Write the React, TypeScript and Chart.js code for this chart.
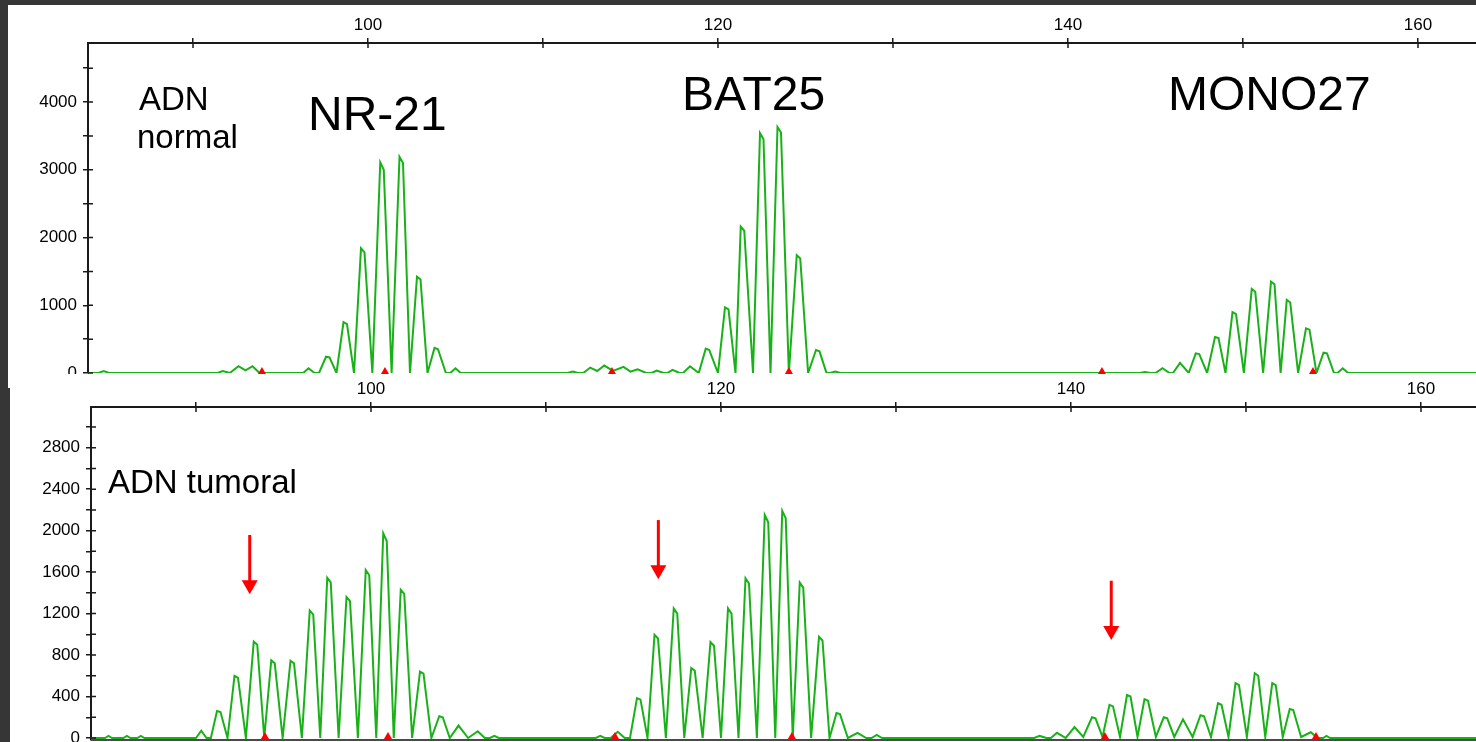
import React, { useEffect, useRef } from 'react';
import { Chart, registerables } from 'chart.js';

Chart.register(...registerables);

// ---------------- data ----------------
// trace vertices: [size in bp, fluorescence in RFU]
const normalTrace: [number, number][] = [
  [84, 0], [84.6, 0], [84.9, 30], [85.2, 0],
  [91.4, 0], [91.7, 30], [92.1, 0], [92.6, 100], [93.0, 40], [93.4, 100], [93.8, 0],
  [96.3, 0], [96.6, 70], [96.95, 0], [97.2, 0], [97.6, 240], [97.8, 230], [98.2, 0],
  [98.6, 750], [98.8, 720], [99.2, 0], [99.6, 1840], [99.8, 1780], [100.25, 0],
  [100.7, 3110], [100.9, 3000], [101.35, 0], [101.8, 3190], [102.0, 3100], [102.4, 0],
  [102.8, 1420], [103.0, 1380], [103.4, 0], [103.8, 370], [104.0, 350], [104.45, 0],
  [104.7, 0], [105.0, 70], [105.3, 0],
  [111.4, 0], [111.7, 20], [112.0, 0], [112.3, 0], [112.7, 80], [113.1, 30], [113.5, 110],
  [114.0, 30], [114.6, 90], [115.0, 20], [115.4, 55], [115.9, 0], [116.2, 0], [116.5, 35],
  [116.9, 0], [117.1, 0], [117.4, 45], [117.8, 0], [118.0, 0], [118.4, 100], [118.9, 0],
  [119.3, 360], [119.5, 340], [120.0, 0], [120.4, 970], [120.6, 940], [121.0, 0],
  [121.3, 2160], [121.5, 2100], [122.0, 0], [122.4, 3540], [122.6, 3450], [123.0, 0],
  [123.4, 3630], [123.6, 3550], [124.05, 0], [124.5, 1740], [124.7, 1690], [125.15, 0],
  [125.6, 340], [125.8, 320], [126.2, 0], [126.4, 0], [126.7, 20], [127.0, 0],
  [144.1, 0], [144.4, 15], [144.7, 0], [145.0, 0], [145.4, 70], [145.8, 0], [146.0, 0],
  [146.4, 150], [146.9, 0], [147.3, 290], [147.5, 280], [147.95, 0], [148.4, 530],
  [148.6, 515], [149.0, 0], [149.4, 900], [149.6, 870], [150.05, 0], [150.5, 1240],
  [150.7, 1200], [151.15, 0], [151.6, 1350], [151.8, 1310], [152.15, 0], [152.5, 1080],
  [152.7, 1040], [153.15, 0], [153.6, 660], [153.8, 640], [154.2, 0], [154.6, 300],
  [154.8, 290], [155.2, 0], [155.4, 0], [155.7, 70], [156.0, 0], [164, 0],
];

const tumoralTrace: [number, number][] = [
  [84, 0], [84.8, 0], [85.0, 20], [85.2, 0], [85.85, 0], [86.05, 20], [86.25, 0],
  [86.65, 0], [86.85, 20], [87.05, 0],
  [90.0, 0], [90.3, 70], [90.6, 0], [90.85, 0], [91.2, 260], [91.4, 250], [91.8, 0],
  [92.2, 600], [92.4, 580], [92.85, 0], [93.3, 930], [93.5, 900], [93.9, 0],
  [94.3, 750], [94.5, 720], [94.95, 0], [95.4, 745], [95.6, 720], [96.05, 0],
  [96.5, 1230], [96.7, 1190], [97.1, 0], [97.5, 1545], [97.7, 1500], [98.15, 0],
  [98.6, 1360], [98.8, 1320], [99.25, 0], [99.7, 1620], [99.9, 1570], [100.3, 0],
  [100.7, 1975], [100.9, 1900], [101.3, 0], [101.7, 1430], [101.9, 1390], [102.35, 0],
  [102.8, 640], [103.0, 620], [103.45, 0], [103.9, 210], [104.1, 200], [104.5, 0],
  [105.0, 120], [105.55, 0], [106.1, 65], [106.5, 0], [106.8, 0], [107.05, 20], [107.3, 0],
  [112.85, 0], [113.1, 20], [113.35, 0], [113.7, 0], [114.1, 60], [114.5, 0], [114.8, 0],
  [115.2, 385], [115.4, 370], [115.8, 0], [116.2, 995], [116.4, 960], [116.85, 0],
  [117.3, 1250], [117.5, 1200], [117.9, 0], [118.3, 675], [118.5, 650], [118.95, 0],
  [119.4, 925], [119.6, 890], [120.0, 0], [120.4, 1250], [120.6, 1200], [121.0, 0],
  [121.4, 1540], [121.6, 1490], [122.05, 0], [122.5, 2150], [122.7, 2080], [123.1, 0],
  [123.5, 2190], [123.7, 2120], [124.1, 0], [124.5, 1500], [124.7, 1450], [125.15, 0],
  [125.6, 975], [125.8, 940], [126.2, 0], [126.6, 240], [126.8, 230], [127.25, 0],
  [127.8, 50], [128.3, 0], [128.6, 0], [128.9, 30], [129.2, 0],
  [137.9, 0], [138.2, 20], [138.6, 0], [138.85, 0], [139.2, 50], [139.7, 0], [140.2, 105],
  [140.7, 10], [141.2, 200], [141.4, 190], [141.8, 10], [142.2, 320], [142.4, 305],
  [142.8, 10], [143.2, 415], [143.4, 400], [143.8, 10], [144.2, 375], [144.4, 360],
  [144.85, 10], [145.3, 200], [145.5, 190], [145.9, 10], [146.4, 180], [146.95, 10],
  [147.4, 220], [147.6, 210], [148.0, 10], [148.4, 335], [148.6, 320], [149.0, 10],
  [149.4, 530], [149.6, 510], [150.05, 10], [150.5, 625], [150.7, 600], [151.1, 10],
  [151.5, 530], [151.7, 510], [152.1, 10], [152.5, 280], [152.7, 270], [153.15, 10],
  [153.7, 55], [154.1, 0], [154.4, 0], [154.6, 20], [154.8, 0], [164, 0],
];

// size-standard markers (red triangles on the baseline)
const sizeMarkersBp = [93.94, 100.97, 113.94, 124.05, 141.94, 154.0];

// red arrows in the tumoral panel
const arrowBp = [93.07, 116.42, 142.3];
const arrowTopRfu = [1958, 2102, 1517];
const arrowTipRfu = [1386, 1530, 945];

// axis ticks
const xTickValues = [90, 100, 110, 120, 130, 140, 150, 160];
const xTickLabels = ['', '100', '', '120', '', '140', '', '160'];
const normalYTicks = [0, 500, 1000, 1500, 2000, 2500, 3000, 3500, 4000, 4500];
const normalYLabels = ['0', '', '1000', '', '2000', '', '3000', '', '4000', ''];
const tumoralYTicks = [0, 200, 400, 600, 800, 1000, 1200, 1400, 1600, 1800, 2000, 2200, 2400, 2600, 2800, 3000];
const tumoralYLabels = ['0', '', '400', '', '800', '', '1200', '', '1600', '', '2000', '', '2400', '', '2800', ''];

// annotation texts
const normalTexts = ['ADN', 'normal', 'NR-21', 'BAT25', 'MONO27'];
const tumoralTexts = ['ADN tumoral'];

// ---------------- layout / style ----------------
const DARK = '#363636';
const AXIS = '#1a1a1a';
const TRACE = 'rgb(24,178,24)';
const FONT = '"Liberation Sans", Arial, Helvetica, sans-serif';

const normalTextPos = [
  { bp: 86.91, rfu: 3882, size: 33 },
  { bp: 86.8, rfu: 3317, size: 33 },
  { bp: 96.57, rfu: 3587, size: 48 },
  { bp: 117.94, rfu: 3882, size: 48 },
  { bp: 145.71, rfu: 3882, size: 48 },
];
const tumoralTextPos = [{ bp: 84.97, rfu: 2363, size: 33 }];

type PanelCfg = {
  left: number; top: number; width: number; height: number;
  xMin: number; xMax: number; yMin: number; yMax: number;
  xAxisH: number; yAxisW: number; padBottom: number;
  trace: [number, number][];
  yTicks: number[]; yLabels: string[];
  texts: string[]; textPos: { bp: number; rfu: number; size: number }[];
  arrows: boolean; bottomBorder: boolean;
};

const normalPanel: PanelCfg = {
  left: 8, top: 5, width: 1468, height: 369,
  xMin: 84, xMax: 84 + (1468 - 80) / 17.5, yMin: 0, yMax: 4871,
  xAxisH: 38, yAxisW: 80, padBottom: 1,
  trace: normalTrace, yTicks: normalYTicks, yLabels: normalYLabels,
  texts: normalTexts, textPos: normalTextPos, arrows: false, bottomBorder: false,
};

const tumoralPanel: PanelCfg = {
  left: 10, top: 374, width: 1466, height: 368,
  xMin: 84, xMax: 84 + (1466 - 81) / 17.5, yMin: -19.3, yMax: 3192.5,
  xAxisH: 33, yAxisW: 81, padBottom: 2,
  trace: tumoralTrace, yTicks: tumoralYTicks, yLabels: tumoralYLabels,
  texts: tumoralTexts, textPos: tumoralTextPos, arrows: true, bottomBorder: true,
};

function overlayPlugin(p: PanelCfg) {
  return {
    id: 'overlay',
    afterDraw(chart: any) {
      const { ctx, chartArea, scales } = chart;
      const xs = scales.x;
      const ys = scales.y;
      ctx.save();
      // inner halves of the tick marks (ticks cross the axis lines)
      ctx.strokeStyle = AXIS;
      ctx.lineWidth = 1.5;
      ctx.beginPath();
      xs.ticks.forEach((t: any) => {
        const px = xs.getPixelForValue(t.value);
        ctx.moveTo(px, chartArea.top);
        ctx.lineTo(px, chartArea.top + 5);
      });
      ys.ticks.forEach((t: any) => {
        const py = ys.getPixelForValue(t.value);
        ctx.moveTo(chartArea.left, py);
        ctx.lineTo(chartArea.left + 5, py);
      });
      ctx.stroke();

      if (p.bottomBorder) {
        ctx.strokeStyle = '#4a4a4a';
        ctx.lineWidth = 2;
        ctx.beginPath();
        ctx.moveTo(chartArea.left, chartArea.bottom);
        ctx.lineTo(chartArea.right, chartArea.bottom);
        ctx.stroke();
      }

      // texts
      ctx.fillStyle = '#000';
      ctx.textBaseline = 'alphabetic';
      ctx.textAlign = 'left';
      p.texts.forEach((txt, i) => {
        const pos = p.textPos[i];
        ctx.font = `${pos.size}px ${FONT}`;
        ctx.fillText(txt, xs.getPixelForValue(pos.bp), ys.getPixelForValue(pos.rfu));
      });

      // arrows
      if (p.arrows) {
        ctx.strokeStyle = '#ff0000';
        ctx.fillStyle = '#ff0000';
        arrowBp.forEach((bp, i) => {
          const x = xs.getPixelForValue(bp);
          const yTop = ys.getPixelForValue(arrowTopRfu[i]);
          const yTip = ys.getPixelForValue(arrowTipRfu[i]);
          const head = 14;
          ctx.lineWidth = 3;
          ctx.beginPath();
          ctx.moveTo(x, yTop);
          ctx.lineTo(x, yTip - head + 1);
          ctx.stroke();
          ctx.beginPath();
          ctx.moveTo(x - 8, yTip - head);
          ctx.lineTo(x + 8, yTip - head);
          ctx.lineTo(x, yTip);
          ctx.closePath();
          ctx.fill();
        });
      }
      ctx.restore();
    },
  };
}

function buildConfig(p: PanelCfg): any {
  return {
    type: 'line',
    data: {
      datasets: [
        {
          type: 'line',
          data: p.trace.map(([x, y]) => ({ x, y })),
          borderColor: TRACE,
          borderWidth: 2,
          pointRadius: 0,
          tension: 0,
          fill: false,
          order: 2,
        },
        {
          type: 'scatter',
          data: sizeMarkersBp.map((x) => ({ x, y: 0 })),
          pointStyle: 'triangle',
          pointRadius: 6,
          backgroundColor: '#ff0000',
          borderColor: '#ff0000',
          borderWidth: 0,
          clip: false,
          order: 1,
        },
      ],
    },
    options: {
      animation: false,
      responsive: false,
      devicePixelRatio: 1,
      events: [],
      layout: { autoPadding: false, padding: { left: 0, right: 0, top: 0, bottom: p.padBottom } },
      plugins: { legend: { display: false }, tooltip: { enabled: false } },
      scales: {
        x: {
          type: 'linear',
          position: 'top',
          min: p.xMin,
          max: p.xMax,
          afterBuildTicks: (s: any) => {
            s.ticks = xTickValues.map((v) => ({ value: v }));
          },
          afterFit: (s: any) => {
            s.height = p.xAxisH;
            s.paddingLeft = 0;
            s.paddingRight = 0;
          },
          ticks: {
            autoSkip: false,
            maxRotation: 0,
            minRotation: 0,
            padding: 2,
            color: '#000',
            font: { family: FONT, size: 17 },
            callback: (_v: any, i: number) => xTickLabels[i] ?? '',
          },
          grid: { drawOnChartArea: false, drawTicks: true, tickLength: 5, color: AXIS, lineWidth: 1.5 },
          border: { display: true, color: AXIS, width: 2 },
        },
        y: {
          type: 'linear',
          min: p.yMin,
          max: p.yMax,
          afterBuildTicks: (s: any) => {
            s.ticks = p.yTicks.map((v) => ({ value: v }));
          },
          afterFit: (s: any) => {
            s.width = p.yAxisW;
            s.paddingTop = 0;
            s.paddingBottom = 0;
          },
          ticks: {
            autoSkip: false,
            padding: 6,
            color: '#000',
            font: { family: FONT, size: 17 },
            callback: (_v: any, i: number) => p.yLabels[i] ?? '',
          },
          grid: { drawOnChartArea: false, drawTicks: true, tickLength: 5, color: AXIS, lineWidth: 1.5 },
          border: { display: true, color: AXIS, width: 2 },
        },
      },
    },
    plugins: [overlayPlugin(p)],
  };
}

function Panel({ cfg }: { cfg: PanelCfg }) {
  const ref = useRef<HTMLCanvasElement | null>(null);
  useEffect(() => {
    if (!ref.current) return;
    const chart = new Chart(ref.current, buildConfig(cfg));
    return () => chart.destroy();
  }, [cfg]);
  return (
    <canvas
      ref={ref}
      width={cfg.width}
      height={cfg.height}
      style={{
        position: 'absolute',
        left: cfg.left,
        top: cfg.top,
        width: cfg.width,
        height: cfg.height,
        background: '#fff',
        display: 'block',
      }}
    />
  );
}

export default function App() {
  return (
    <div
      style={{
        position: 'fixed',
        left: 0,
        top: 0,
        width: 1476,
        height: 742,
        background: DARK,
        overflow: 'hidden',
      }}
    >
      <Panel cfg={normalPanel} />
      <div style={{ position: 'absolute', left: 8, top: 374, width: 2, height: 14, background: '#fff' }} />
      <Panel cfg={tumoralPanel} />
    </div>
  );
}
